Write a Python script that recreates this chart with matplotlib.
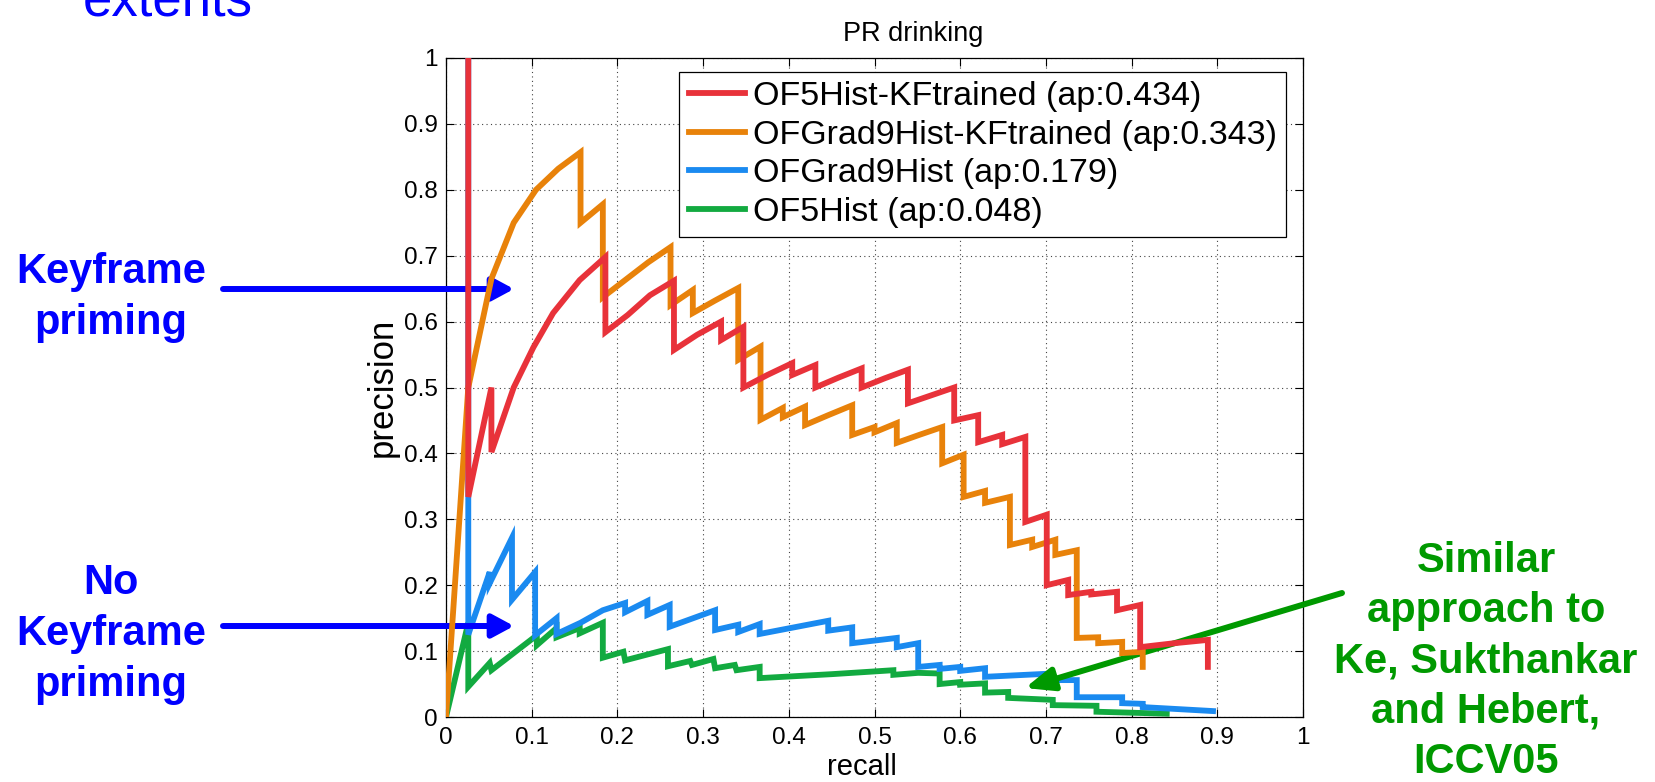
import matplotlib.pyplot as plt

# precision / recall vertices of the four detectors
red_recall = [0.026, 0.026, 0.053, 0.053, 0.079, 0.102, 0.125, 0.156, 0.186, 0.186, 0.212, 0.238, 0.266, 0.266,
              0.293, 0.321, 0.321, 0.347, 0.347, 0.375, 0.404, 0.404, 0.431, 0.431, 0.458, 0.485, 0.485, 0.512,
              0.539, 0.539, 0.566, 0.593, 0.593, 0.621, 0.621, 0.649, 0.649, 0.676, 0.676, 0.701, 0.701, 0.726,
              0.726, 0.753, 0.753, 0.783, 0.783, 0.81, 0.81, 0.85, 0.889, 0.889]
red_prec = [1.0, 0.334, 0.50, 0.402, 0.50, 0.561, 0.613, 0.663, 0.698, 0.584, 0.61, 0.64, 0.662, 0.557,
            0.58, 0.60, 0.572, 0.592, 0.50, 0.519, 0.537, 0.519, 0.534, 0.50, 0.515, 0.529, 0.50, 0.514,
            0.527, 0.476, 0.488, 0.50, 0.45, 0.458, 0.417, 0.428, 0.414, 0.425, 0.296, 0.307, 0.20, 0.208,
            0.185, 0.19, 0.186, 0.19, 0.162, 0.17, 0.106, 0.112, 0.117, 0.076]

orange_recall = [0.0, 0.026, 0.053, 0.079, 0.105, 0.131, 0.157, 0.157, 0.183, 0.183, 0.21, 0.236, 0.262, 0.262,
                 0.288, 0.288, 0.314, 0.341, 0.341, 0.367, 0.367, 0.393, 0.393, 0.419, 0.419, 0.446, 0.474,
                 0.474, 0.50, 0.50, 0.526, 0.526, 0.552, 0.579, 0.579, 0.604, 0.604, 0.629, 0.629, 0.658,
                 0.658, 0.684, 0.684, 0.711, 0.711, 0.736, 0.736, 0.761, 0.761, 0.789, 0.789, 0.813, 0.813]
orange_prec = [0.0, 0.50, 0.665, 0.75, 0.80, 0.832, 0.857, 0.75, 0.778, 0.637, 0.664, 0.69, 0.713, 0.625,
               0.648, 0.613, 0.632, 0.651, 0.542, 0.562, 0.451, 0.469, 0.455, 0.471, 0.443, 0.458, 0.473,
               0.428, 0.44, 0.432, 0.446, 0.416, 0.428, 0.44, 0.385, 0.398, 0.334, 0.343, 0.325, 0.334,
               0.261, 0.269, 0.258, 0.269, 0.246, 0.253, 0.12, 0.121, 0.112, 0.114, 0.097, 0.099, 0.076]

blue_recall = [0.026, 0.026, 0.051, 0.051, 0.077, 0.077, 0.104, 0.104, 0.129, 0.129, 0.157, 0.183, 0.209, 0.209,
               0.235, 0.235, 0.261, 0.261, 0.314, 0.314, 0.341, 0.341, 0.366, 0.366, 0.446, 0.446, 0.474,
               0.474, 0.526, 0.526, 0.551, 0.551, 0.576, 0.576, 0.60, 0.60, 0.629, 0.629, 0.708, 0.711,
               0.736, 0.736, 0.789, 0.789, 0.813, 0.813, 0.895]
blue_prec = [1.0, 0.125, 0.22, 0.203, 0.272, 0.178, 0.22, 0.124, 0.15, 0.126, 0.143, 0.162, 0.173, 0.159,
             0.176, 0.155, 0.17, 0.137, 0.162, 0.132, 0.14, 0.129, 0.141, 0.126, 0.146, 0.131, 0.136,
             0.112, 0.12, 0.106, 0.112, 0.076, 0.079, 0.073, 0.076, 0.07, 0.074, 0.061, 0.066, 0.056,
             0.056, 0.03, 0.03, 0.021, 0.02, 0.015, 0.009]

green_recall = [0.0, 0.026, 0.026, 0.051, 0.053, 0.106, 0.106, 0.129, 0.129, 0.156, 0.156, 0.183, 0.183, 0.207,
                0.209, 0.259, 0.259, 0.285, 0.287, 0.312, 0.314, 0.337, 0.339, 0.366, 0.366, 0.45, 0.522,
                0.522, 0.551, 0.576, 0.576, 0.60, 0.60, 0.629, 0.629, 0.656, 0.656, 0.708, 0.708, 0.759,
                0.759, 0.841]
green_prec = [0.0, 0.143, 0.046, 0.082, 0.071, 0.124, 0.109, 0.135, 0.121, 0.135, 0.127, 0.143, 0.09, 0.099,
              0.086, 0.103, 0.077, 0.085, 0.079, 0.088, 0.074, 0.079, 0.071, 0.076, 0.059, 0.065, 0.071,
              0.064, 0.067, 0.066, 0.05, 0.053, 0.049, 0.051, 0.037, 0.038, 0.029, 0.026, 0.018, 0.017,
              0.008, 0.005]

series_labels = ['OF5Hist-KFtrained (ap:0.434)', 'OFGrad9Hist-KFtrained (ap:0.343)',
                 'OFGrad9Hist (ap:0.179)', 'OF5Hist (ap:0.048)']
series_colors = ['#E8323A', '#E8820A', '#1A8AF0', '#12AA40']
ticks = [0, 0.1, 0.2, 0.3, 0.4, 0.5, 0.6, 0.7, 0.8, 0.9, 1]
tick_labels = ['0', '0.1', '0.2', '0.3', '0.4', '0.5', '0.6', '0.7', '0.8', '0.9', '1']

plt.rcParams['font.family'] = 'Liberation Sans'

W, H = 1655, 782
fig = plt.figure(figsize=(W / 100, H / 100), dpi=100)
ax = fig.add_axes([446 / W, 1 - 717 / H, 857 / W, 659 / H])

curves = [(red_recall, red_prec), (orange_recall, orange_prec),
          (blue_recall, blue_prec), (green_recall, green_prec)]
handles = []
for (r, p), lab, col in zip(curves, series_labels, series_colors):
    h, = ax.plot(r, p, color=col, lw=4.2, label=lab, solid_joinstyle='miter')
    handles.append(h)
# red on top, green at the bottom
for i, h in enumerate(handles):
    h.set_zorder(5 - i)

ax.set_xlim(0, 1)
ax.set_ylim(0, 1)
ax.set_xticks(ticks)
ax.set_yticks(ticks)
ax.set_xticklabels(tick_labels, fontsize=17.5)
ax.set_yticklabels(tick_labels, fontsize=17.5)
ax.tick_params(axis='both', direction='in', length=6, width=0.8, top=True, right=True)
ax.tick_params(axis='x', pad=7)
ax.tick_params(axis='y', pad=6)
ax.grid(True, linestyle=(0, (1, 3)), color='#444444', lw=0.8)
for s in ax.spines.values():
    s.set_linewidth(0.9)

ax.set_title('PR drinking', fontsize=19.5, x=0.545, pad=12)
ax.set_xlabel('recall', fontsize=21)
ax.xaxis.set_label_coords(0.485, -0.055)
ax.xaxis.label.set_va('top')
ax.set_ylabel('precision', fontsize=25, labelpad=4)

leg = ax.legend(handles=handles, loc='upper left', bbox_to_anchor=(0.272, 0.979),
                fontsize=24.5, frameon=True, fancybox=False, edgecolor='black', framealpha=1,
                handlelength=1.65, handletextpad=0.24, borderpad=0.28, labelspacing=0.22,
                borderaxespad=0)
leg.get_frame().set_linewidth(0.9)


def stack(lines, x, y0, dy, **kw):
    # centred lines of slide text, baselines measured in pixels from the top
    for k, s in enumerate(lines):
        fig.text(x / W, 1 - (y0 + k * dy) / H, s, ha='center', va='baseline', **kw)


blue = '#0000FF'
green = '#009900'
fig.text(83 / W, 1 - 15 / H, 'extents', color=blue, fontsize=38, va='baseline', ha='left')
stack(['Keyframe', 'priming'], 111, 283, 50.5, color=blue, fontsize=30, fontweight='bold')
stack(['No', 'Keyframe', 'priming'], 111, 594, 51, color=blue, fontsize=30, fontweight='bold')
stack(['Similar', 'approach to', 'Ke, Sukthankar', 'and Hebert,', 'ICCV05'], 1486, 572, 50.2,
      color=green, fontsize=30, fontweight='bold')

for (x0, y0), (x1, y1), col, hl in [((223, 289), (514, 289), blue, 13),
                                    ((223, 626), (514, 626), blue, 13),
                                    ((1342, 593), (1025, 688), green, 17)]:
    ax.annotate('', xy=(x1, H - y1), xycoords='figure pixels',
                xytext=(x0, H - y0), textcoords='figure pixels',
                arrowprops=dict(arrowstyle=f'-|>,head_length={hl},head_width=7',
                                mutation_scale=1, color=col, lw=4.3,
                                shrinkA=0, shrinkB=0),
                annotation_clip=False)

fig.savefig('out.png', dpi=100)
